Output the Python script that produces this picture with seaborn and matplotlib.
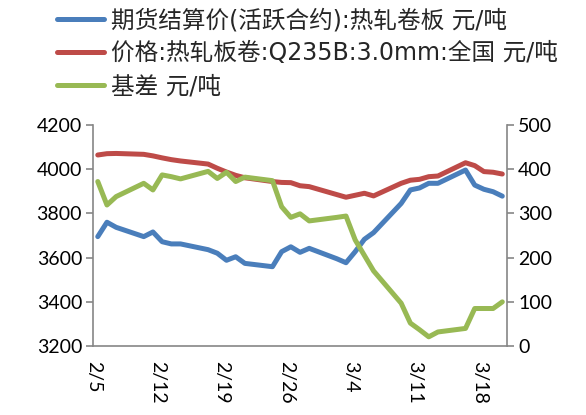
import pandas as pd
import matplotlib
matplotlib.use('Agg')
import matplotlib.pyplot as plt
import matplotlib.dates as mdates
import seaborn as sns

# trading days (2020)
dates = ['2020-02-05', '2020-02-06', '2020-02-07', '2020-02-10', '2020-02-11', '2020-02-12',
         '2020-02-13', '2020-02-14', '2020-02-17', '2020-02-18', '2020-02-19', '2020-02-20',
         '2020-02-21', '2020-02-24', '2020-02-25', '2020-02-26', '2020-02-27', '2020-02-28',
         '2020-03-02', '2020-03-03', '2020-03-04', '2020-03-05', '2020-03-06', '2020-03-09',
         '2020-03-10', '2020-03-11', '2020-03-12', '2020-03-13', '2020-03-16', '2020-03-17',
         '2020-03-18', '2020-03-19', '2020-03-20']

futures = [3695, 3760, 3737, 3695, 3716, 3672, 3662, 3662, 3636, 3620, 3588, 3604, 3574,
           3559, 3627, 3649, 3624, 3642, 3595, 3577, 3627, 3683, 3713, 3845, 3906, 3915,
           3936, 3936, 3996, 3928, 3909, 3898, 3878]

spot = [4064, 4070, 4071, 4067, 4060, 4051, 4043, 4037, 4023, 4004, 3987, 3972, 3961,
        3944, 3940, 3939, 3925, 3921, 3885, 3873, 3882, 3891, 3879, 3936, 3950, 3954,
        3966, 3969, 4029, 4016, 3989, 3986, 3978]

basis = [372, 319, 338, 368, 353, 387, 383, 378, 395, 379, 393, 372, 382,
         374, 315, 291, 299, 283, 291, 294, 240, 205, 170, 97, 52, 37,
         21, 32, 40, 85, 85, 85, 100]

tick_dates = ['2020-02-05', '2020-02-12', '2020-02-19', '2020-02-26', '2020-03-04', '2020-03-11', '2020-03-18']
tick_labels = ['2/5', '2/12', '2/19', '2/26', '3/4', '3/11', '3/18']

label_fut = '期货结算价(活跃合约):热轧卷板 元/吨'
label_spot = '价格:热轧板卷:Q235B:3.0mm:全国 元/吨'
label_basis = '基差 元/吨'

# points sit in the middle of each day slot, like an Excel date axis
df = pd.DataFrame({'date': pd.to_datetime(dates) + pd.Timedelta(hours=12),
                   'futures': futures, 'spot': spot, 'basis': basis})

sns.set_style('white')
plt.rcParams['font.family'] = ['Lato', 'Noto Sans CJK SC', 'DejaVu Sans']
plt.rcParams['axes.unicode_minus'] = False

c_blue = '#4A7EBB'
c_red = '#BE4B48'
c_green = '#98B954'
axis_gray = '#868686'
lw = 3.6

fig = plt.figure(figsize=(5.86, 4.15), dpi=100)
ax = fig.add_axes([0.159, 0.166, 0.706, 0.533])
ax2 = ax.twinx()

sns.lineplot(data=df, x='date', y='futures', ax=ax, color=c_blue, linewidth=lw,
             label=label_fut, legend=False)
sns.lineplot(data=df, x='date', y='spot', ax=ax, color=c_red, linewidth=lw,
             label=label_spot, legend=False)
sns.lineplot(data=df, x='date', y='basis', ax=ax2, color=c_green, linewidth=lw,
             label=label_basis, legend=False)

ax.set_ylim(3200, 4200)
ax.set_yticks(range(3200, 4201, 200))
ax2.set_ylim(0, 500)
ax2.set_yticks(range(0, 501, 100))
ax.set_xlim(pd.Timestamp('2020-02-05'), pd.Timestamp('2020-03-21'))
ax.set_xticks(mdates.date2num(pd.to_datetime(tick_dates)))
ax.set_xticklabels(tick_labels, rotation=-90, va='top', ha='center')

ax.set_xlabel('')
ax.set_ylabel('')
ax2.set_ylabel('')

for a in (ax, ax2):
    a.spines['top'].set_visible(False)
    for s in ('left', 'right', 'bottom'):
        a.spines[s].set_color(axis_gray)
        a.spines[s].set_linewidth(1.2)
    a.tick_params(axis='both', which='both', direction='out', length=5, width=1.2,
                  color=axis_gray, labelsize=14, labelcolor='black', pad=3)
    a.grid(False)
ax2.spines['left'].set_visible(False)
ax2.spines['bottom'].set_visible(False)
ax.spines['right'].set_visible(False)
ax.tick_params(axis='x', pad=6)
ax.tick_params(axis='y', left=True)
ax2.tick_params(axis='y', right=True)

h1, l1 = ax.get_legend_handles_labels()
h2, l2 = ax2.get_legend_handles_labels()
fig.legend(h1 + h2, l1 + l2, loc='upper left', bbox_to_anchor=(0.097, 0.98),
           frameon=False, prop=dict(family=['DejaVu Sans', 'Noto Sans CJK SC'], size=17),
           handlelength=2.0, handletextpad=0.3,
           labelspacing=0.38, borderaxespad=0, borderpad=0)

fig.savefig('out.png', dpi=100)
